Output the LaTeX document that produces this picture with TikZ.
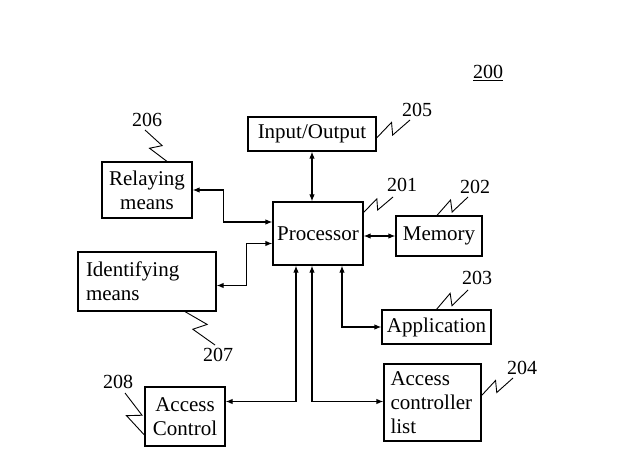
\documentclass[tikz,border=0pt]{standalone}
\usepackage{fontspec}
\setmainfont{Liberation Serif}
\usetikzlibrary{calc,arrows.meta}

% zigzag leader from a box to its reference number
\newcommand{\leadline}[2]{\draw[leader] (#1) -- ($(#1)!0.57!18:(#2)$) -- ($(#1)!0.43!-18:(#2)$) -- (#2);}

\begin{document}
\begin{tikzpicture}[x=1pt, y=-1pt,
		box/.style={draw, line width=1.2pt, inner sep=0pt, font=\fontsize{21}{24}\selectfont, align=center},
		lbl/.style={font=\fontsize{20}{22}\selectfont, inner sep=0pt},
		link/.style={line width=1.2pt, {Latex[length=7pt,width=5.5pt]}-{Latex[length=7pt,width=5.5pt]}},
		leader/.style={line width=0.9pt}]
		\useasboundingbox (0,0) rectangle (628,470);

		\node[box, minimum width=90pt, minimum height=63pt] (proc) at (318,233.5) {Processor};
		\node[box, minimum width=128pt, minimum height=34pt] (io) at (312,134) {Input/Output};
		\node[box, minimum width=90pt, minimum height=56pt] (relay) at (147,190) {Relaying\\means};
		\node[box, minimum width=138pt, minimum height=59pt, text width=122pt, align=left] (ident) at (147,281.5) {Identifying\\means};
		\node[box, minimum width=86pt, minimum height=40pt] (mem) at (439,236) {Memory};
		\node[box, minimum width=109pt, minimum height=34pt] (app) at (436.5,327) {Application};
		\node[box, minimum width=80pt, minimum height=59pt] (acc) at (185,416.5) {Access\\Control};
		\node[box, minimum width=97pt, minimum height=77pt, text width=84pt, align=left] (acl) at (432.5,402.5) {Access\\controller\\list};

		\draw[link] (io.south) -- (io.south |- proc.north);
		\draw[link] (relay.east) -- ++(31,0) |- ($(proc.west)+(0,-11.5)$);
		\draw[link] ($(ident.east)+(0,4)$) -- ++(30,0) |- ($(proc.west)+(0,10)$);
		\draw[link] (proc.east |- mem.west) -- (mem.west);
		\draw[link] ($(proc.south)+(24,0)$) |- (app.west);
		\draw[link] ($(proc.south)+(-22,0)$) |- ($(acc.east)+(0,-15)$);
		\draw[link] ($(proc.south)+(-6,0)$) |- ($(acl.west)+(0,-1)$);

		\node[lbl] (n200) at (488,73) {\underline{200}};
		\node[lbl] (n205) at (417,110) {205};
		\node[lbl] (n201) at (402,185) {201};
		\node[lbl] (n202) at (475,187) {202};
		\node[lbl] (n203) at (477,278) {203};
		\node[lbl] (n204) at (522,368) {204};
		\node[lbl] (n206) at (147,120) {206};
		\node[lbl] (n207) at (218,355) {207};
		\node[lbl] (n208) at (118,382) {208};

		\coordinate (e205) at (410,120);
		\coordinate (e201) at (393,197);
		\coordinate (e202) at (468,197);
		\coordinate (e203) at (468,290);
		\coordinate (e204) at (513,378);
		\coordinate (e206) at (145,130);
		\coordinate (e207) at (215,345);
		\coordinate (e208) at (125,393);

		\leadline{$(io.east)+(0,4)$}{e205}
		\leadline{$(proc.north east)+(0,11)$}{e201}
		\leadline{$(mem.north)+(-2,0)$}{e202}
		\leadline{app.north}{e203}
		\leadline{$(acl.east)+(0,-7)$}{e204}
		\leadline{$(relay.north)+(20,0)$}{e206}
		\leadline{$(ident.south)+(38,0)$}{e207}
		\leadline{$(acc.west)+(0,18.5)$}{e208}
	\end{tikzpicture}
\end{document}
